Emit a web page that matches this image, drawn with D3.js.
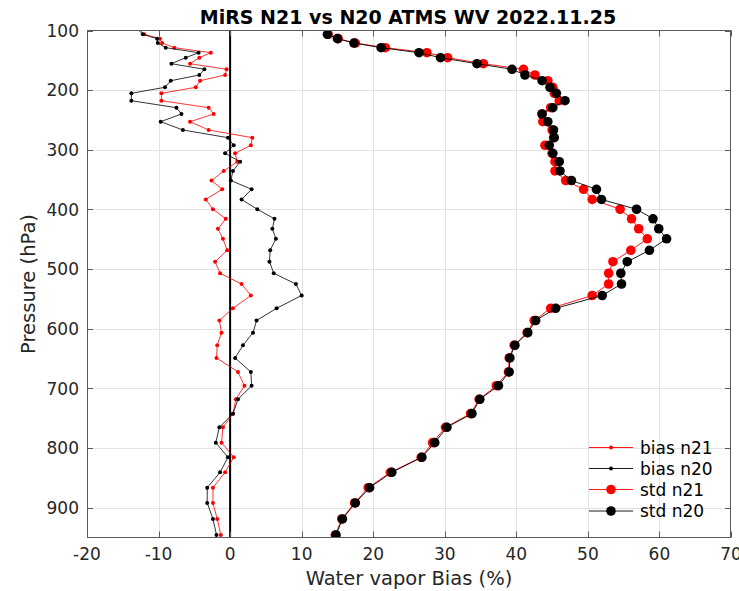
<!DOCTYPE html>
<html><head><meta charset="utf-8">
<script src="https://cdn.jsdelivr.net/npm/d3@7"></script>
<style>body{margin:0;background:#fff}</style>
</head><body>
<svg id="c" width="739" height="591"></svg>
<script>
const pressure=[99.3,106.4,113.7,121.0,128.8,137.2,145.6,155.7,165.0,174.6,184.2,195.2,205.3,217.7,229.4,240.0,252.9,266.8,279.7,292.5,305.9,320.0,335.5,351.5,366.2,383.3,399.7,415.7,432.4,449.2,468.5,487.6,507.0,525.0,544.3,565.7,586.2,606.6,627.7,649.0,672.5,695.5,718.3,742.4,765.2,791.0,815.5,840.7,866.5,892.1,918.9,945.8];
const biasN21=[-12.6,-12.0,-9.8,-9.5,-7.8,-2.7,-4.3,-5.6,-0.5,-0.7,-4.2,-4.8,-9.6,-9.6,-3.0,-2.3,-5.6,-3.0,3.1,2.9,0.7,1.0,-0.9,-2.6,-1.1,-3.4,-2.4,-0.6,-1.7,-1.0,-0.4,-2.1,-1.4,1.6,2.9,0.4,-1.5,-1.2,-1.8,-1.9,1.1,2.0,0.8,0.4,-1.0,-1.2,0.5,-0.7,-2.4,-2.4,-1.8,-1.3];
const biasN20=[-12.8,-12.2,-10.2,-10.1,-9.0,-4.4,-6.2,-8.2,-3.6,-4.3,-8.3,-9.1,-13.8,-13.8,-7.5,-6.8,-9.7,-6.6,-0.3,0.5,-0.7,1.4,0.4,0.1,3.0,1.6,3.8,6.2,5.9,6.4,5.6,5.5,6.1,9.2,10.0,6.5,3.7,3.2,1.8,0.7,2.9,3.0,1.1,0.4,-1.5,-2.0,-0.3,-1.4,-3.2,-3.2,-2.4,-1.9];
const stdN21=[null,13.7,15.1,17.5,21.7,27.5,30.4,35.4,41.0,42.6,44.4,45.1,45.3,46.0,44.8,43.6,43.7,45.0,45.2,44.0,45.0,45.4,45.4,46.9,49.4,50.6,54.5,56.1,57.1,58.3,56.0,53.5,52.9,52.9,50.6,44.8,42.5,41.5,39.7,39.0,38.9,37.2,34.8,33.6,30.1,28.3,26.7,22.4,19.3,17.4,15.6,14.7];
const stdN20=[null,13.6,15.0,17.3,21.1,26.4,29.4,34.5,39.4,41.2,43.6,44.7,45.6,46.8,45.1,43.6,44.4,45.2,45.3,44.6,45.1,46.0,46.1,47.7,51.2,51.9,56.8,59.1,59.9,61.0,58.6,55.5,54.6,54.7,52.0,45.5,42.7,41.6,39.8,39.1,39.0,37.5,34.9,33.8,30.3,28.6,26.8,22.6,19.5,17.5,15.7,14.8];
const xTicks=[-20,-10,0,10,20,30,40,50,60,70];
const yTicks=[100,200,300,400,500,600,700,800,900];
const seriesNames=["bias n21","bias n20","std n21","std n20"];

const L=87,R=731,T=30.5,B=537.5;
const svg=d3.select("#c");
const x=d3.scaleLinear().domain([-20,70]).range([L,R]);
const y=d3.scaleLinear().domain([100,950]).range([T,B]);
const font="DejaVu Sans, sans-serif";
const axCol="#262626";

svg.append("defs").append("clipPath").attr("id","clip").append("rect")
  .attr("x",L).attr("y",T).attr("width",R-L).attr("height",B-T);

// grid
const g=svg.append("g");
g.selectAll(".gx").data(xTicks.slice(1,-1)).join("line")
  .attr("x1",d=>Math.round(x(d))+0.5).attr("x2",d=>Math.round(x(d))+0.5)
  .attr("y1",T).attr("y2",B).attr("stroke","#e3e3e3").attr("stroke-width",1);
g.selectAll(".gy").data(yTicks.slice(1)).join("line")
  .attr("y1",d=>Math.round(y(d))+0.5).attr("y2",d=>Math.round(y(d))+0.5)
  .attr("x1",L).attr("x2",R).attr("stroke","#e3e3e3").attr("stroke-width",1);

// zero line
svg.append("line").attr("x1",x(0)).attr("x2",x(0)).attr("y1",T).attr("y2",B)
  .attr("stroke","#000").attr("stroke-width",2);

const plot=svg.append("g").attr("clip-path","url(#clip)");
function series(vals,color,r,sw){
  const pts=pressure.map((p,i)=>({p,v:vals[i]})).filter(d=>d.v!==null);
  const line=d3.line().x(d=>x(d.v)).y(d=>y(d.p));
  plot.append("path").datum(pts).attr("d",line).attr("fill","none")
    .attr("stroke",color).attr("stroke-width",sw);
  plot.append("g").selectAll("circle").data(pts.filter(d=>d.p>=100)).join("circle")
    .attr("cx",d=>x(d.v)).attr("cy",d=>y(d.p)).attr("r",r).attr("fill",color);
}
series(biasN21,"#ff0000",2,0.8);
series(biasN20,"#000000",2,0.8);
series(stdN21,"#ff0000",4.8,0.9);
series(stdN20,"#000000",4.8,0.9);

// axes box
const ax=svg.append("g");
ax.append("rect").attr("x",L+0.5).attr("y",T).attr("width",R-L-1).attr("height",B-T)
  .attr("fill","none").attr("stroke","#5a5a5a").attr("stroke-width",1);
const tl=6;
xTicks.forEach(d=>{
  const xx=Math.round(x(d))+0.5;
  ax.append("line").attr("x1",xx).attr("x2",xx).attr("y1",B).attr("y2",B-tl).attr("stroke","#5a5a5a");
  ax.append("line").attr("x1",xx).attr("x2",xx).attr("y1",T).attr("y2",T+tl).attr("stroke","#5a5a5a");
  ax.append("text").attr("x",x(d)).attr("y",B+22).attr("text-anchor","middle")
    .attr("font-family",font).attr("font-size",17).attr("fill",axCol).text(d);
});
yTicks.forEach(d=>{
  const yy=Math.round(y(d))+0.5;
  ax.append("line").attr("y1",yy).attr("y2",yy).attr("x1",L).attr("x2",L+tl).attr("stroke","#5a5a5a");
  ax.append("line").attr("y1",yy).attr("y2",yy).attr("x1",R).attr("x2",R-tl).attr("stroke","#5a5a5a");
  ax.append("text").attr("x",L-8).attr("y",y(d)).attr("dy","0.36em").attr("text-anchor","end")
    .attr("font-family",font).attr("font-size",17).attr("fill",axCol).text(d);
});

// labels
svg.append("text").attr("x",(L+R)/2).attr("y",585).attr("text-anchor","middle")
  .attr("font-family",font).attr("font-size",19.5).attr("fill",axCol).text("Water vapor Bias (%)");
svg.append("text").attr("transform",`translate(35,${(T+B)/2}) rotate(-90)`).attr("text-anchor","middle")
  .attr("font-family",font).attr("font-size",19.5).attr("fill",axCol).text("Pressure (hPa)");
svg.append("text").attr("x",408).attr("y",24).attr("text-anchor","middle")
  .attr("font-family",font).attr("font-weight","bold").attr("font-size",19).attr("fill","#000")
  .text("MiRS N21 vs N20 ATMS WV 2022.11.25");

// legend
const lg=svg.append("g");
const lcol=["#ff0000","#000000","#ff0000","#000000"];
const lr=[2,2,4.8,4.8];
const ly=[447.5,468.5,489.5,511];
seriesNames.forEach((n,i)=>{
  lg.append("line").attr("x1",589).attr("x2",633).attr("y1",ly[i]).attr("y2",ly[i])
    .attr("stroke",lcol[i]).attr("stroke-width",0.9);
  lg.append("circle").attr("cx",611).attr("cy",ly[i]).attr("r",lr[i]).attr("fill",lcol[i]);
  lg.append("text").attr("x",640).attr("y",ly[i]).attr("dy","0.36em")
    .attr("font-family",font).attr("font-size",17).attr("fill","#000").text(n);
});
</script>
</body></html>
